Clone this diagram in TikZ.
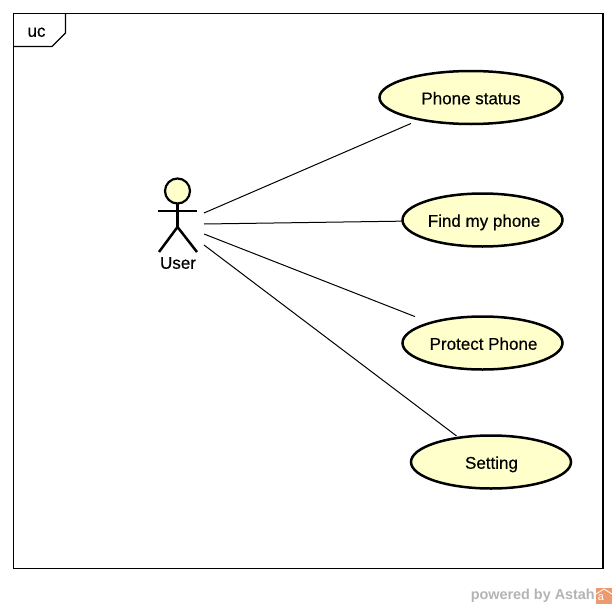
\documentclass[tikz,border=0pt]{standalone}
\usepackage{fontspec}
\setmainfont{Liberation Sans}
\newfontfamily\labelfont[FakeBold=0.4]{Liberation Sans}
\usetikzlibrary{shapes.geometric}
\definecolor{usecasefill}{HTML}{FFFFCC}
\definecolor{markgray}{HTML}{B4B4B4}
\definecolor{markorange}{HTML}{EE9A70}
\tikzset{
  usetext/.style={font=\labelfont\fontsize{17}{18}\selectfont,text height=14.5pt,text depth=1pt},
  usecase/.style={ellipse,draw,line width=2.5pt,fill=usecasefill,inner sep=0pt,outer sep=0pt,
    minimum width=#1,minimum height=53pt,usetext},
  limb/.style={line width=2.5pt},
  link/.style={line width=1pt}
}

\begin{document}
\begin{tikzpicture}[x=1pt,y=-1pt]
   \useasboundingbox (0,0) rectangle (616,608);

   % frame and its tab
   \draw[line width=1.1pt] (13.5,13.5) rectangle (603,568.5);
   \draw[line width=1.1pt] (65.5,13.5) -- (65.5,33) -- (52,46.5) -- (13.5,46.5);
   \node[usetext,inner sep=0pt] (frametitle) at (36.5,30) {uc};

   % use cases
   \node[usecase=183pt] (status) at (471,97.5) {Phone status};
   \node[usecase=160pt] (find) at (482.5,220) {\makebox[0pt]{\hspace*{3pt}Find my phone}};
   \node[usecase=160pt] (protect) at (482.5,343) {\makebox[0pt]{\hspace*{2pt}Protect Phone}};
   \node[usecase=160pt] (setting) at (491,462) {\hspace*{1pt}Setting};

   % actor
   \node[circle,draw,line width=2.2pt,fill=usecasefill,minimum size=25pt,inner sep=0pt,outer sep=0pt] (head) at (177.5,191) {};
   \coordinate (hip) at (177.5,227);
   \draw[limb] (head.south) -- (hip);
   \draw[limb] (158,211) -- (197,211);
   \draw[limb] (159,252) -- (hip) -- (197,252);
   \node[usetext,inner sep=0pt] (user) at (178,262) {User};

   % associations
   \coordinate (userA) at (204,213);
   \coordinate (userB) at (204,224);
   \coordinate (userC) at (204,234);
   \coordinate (userD) at (204,245);
   \draw[link,shorten >=10pt] (userA) -- (status);
   \draw[link] (userB) -- (find);
   \draw[link,shorten >=17pt] (userC) -- (protect);
   \draw[link,shorten >=3pt] (userD) -- (setting);

   % watermark
   \node[anchor=east,text=markgray,inner sep=0pt] (powered) at (595,595.5) {\fontsize{14.4}{17}\selectfont\bfseries powered by Astah};
   \node[fill=markorange,minimum size=16pt,inner sep=0pt,text=white] (logo) at (604,596) {};
   \node[text=white,inner sep=0pt] (logoa) at (601,598) {\fontsize{11}{12}\selectfont a};
   \draw[white,line width=.8pt] (596,594) -- (604,589) -- (612,594);
\end{tikzpicture}
\end{document}
